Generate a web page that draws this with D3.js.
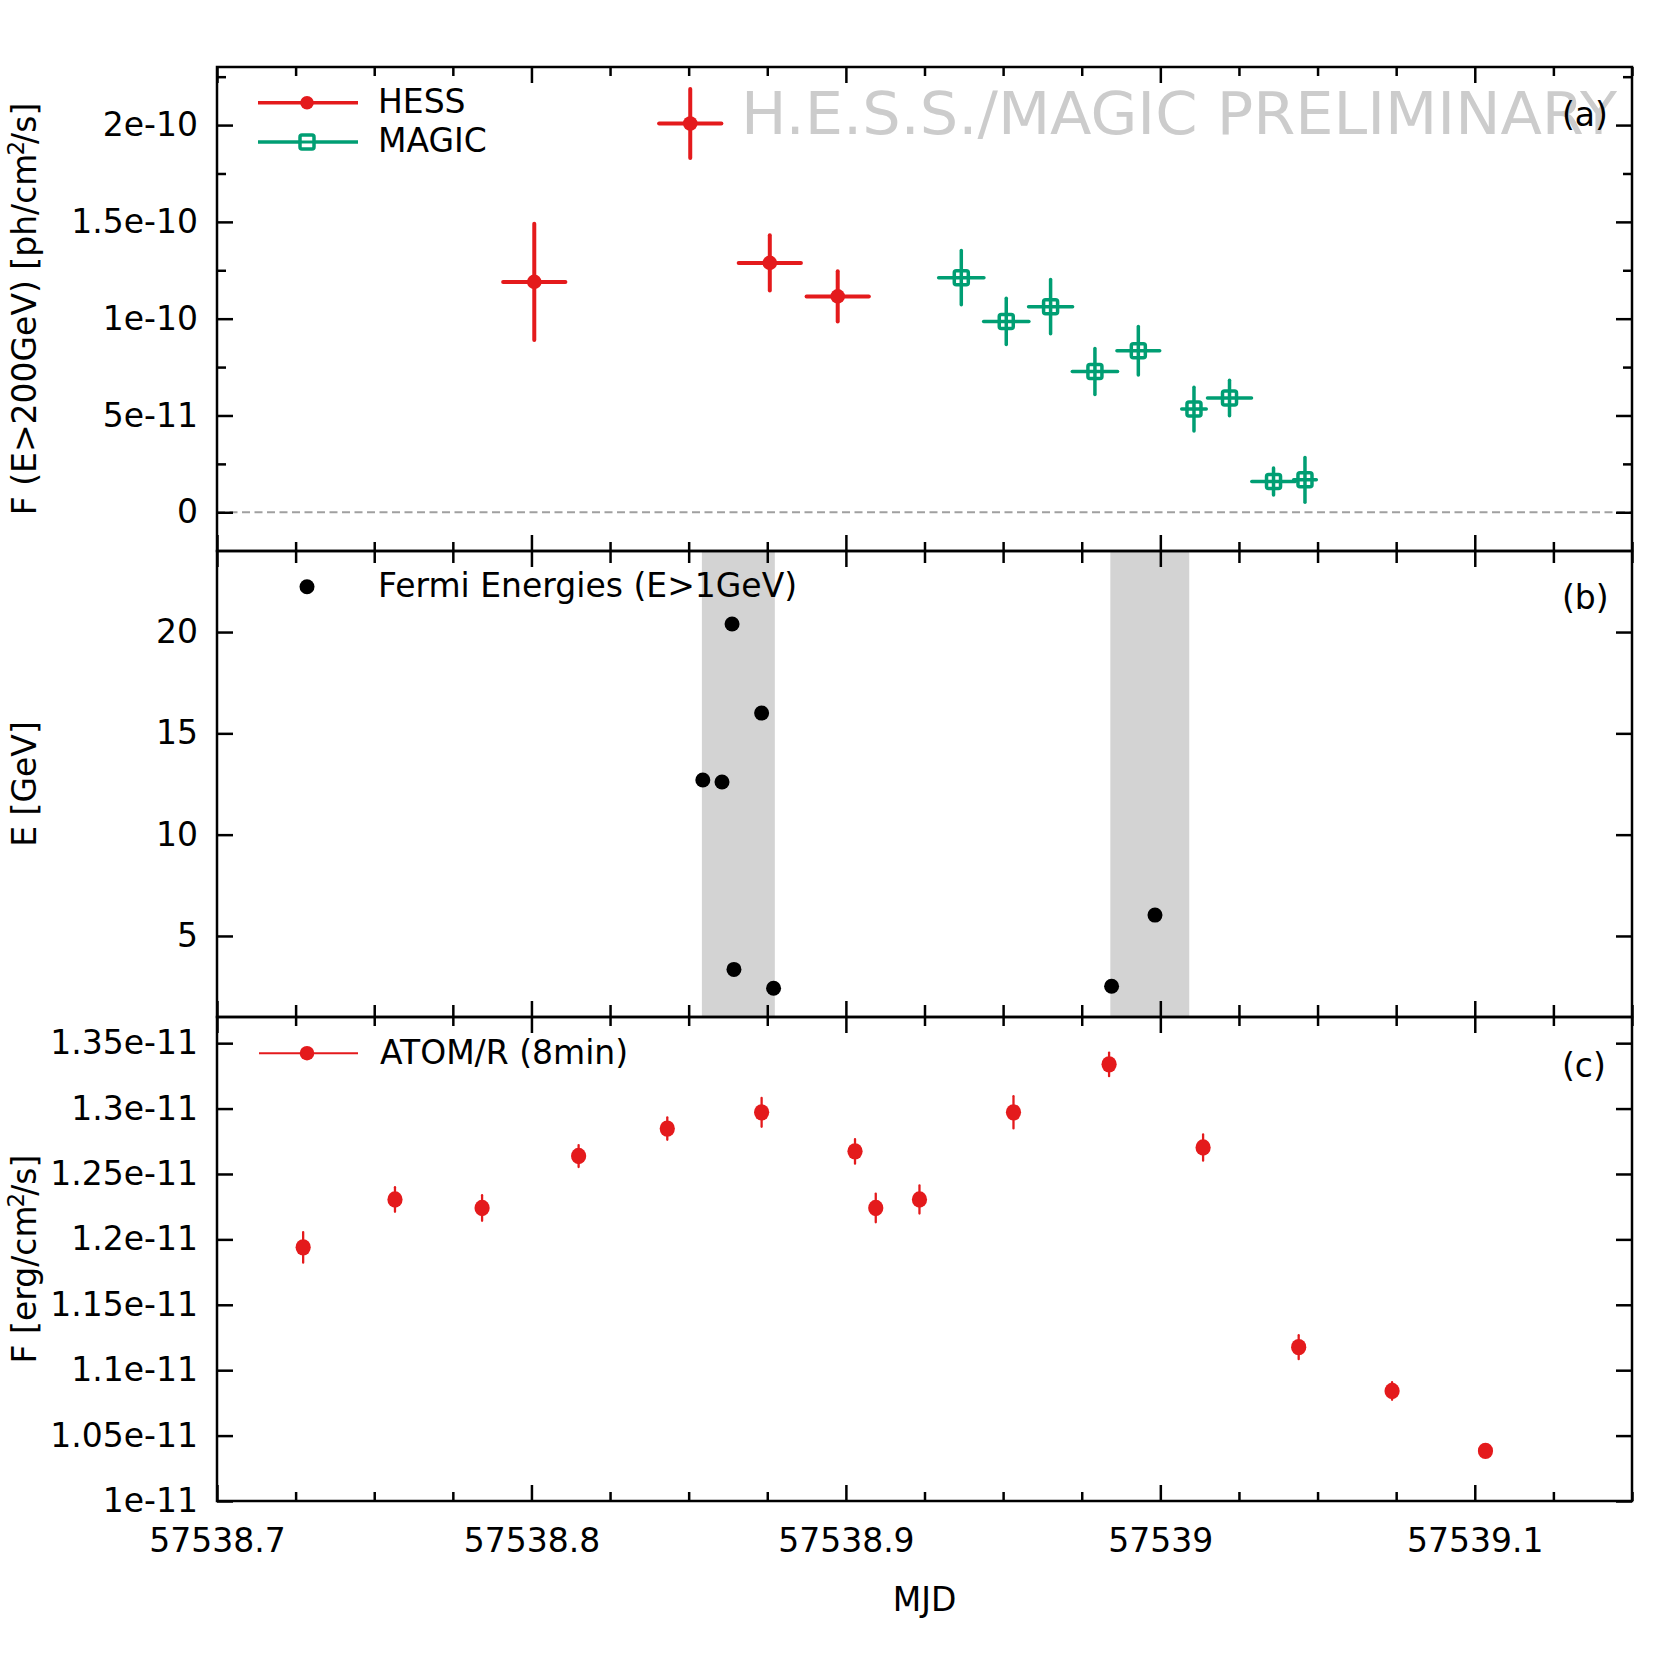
<!DOCTYPE html>
<html><head><meta charset="utf-8">
<script src="https://cdn.jsdelivr.net/npm/d3@7"></script>
<style>
body{margin:0;background:#fff}
svg{display:block}
text{font-family:"DejaVu Sans",sans-serif}
</style>
</head><body>
<svg id="chart" width="1667" height="1667"></svg>
<script>
// ---------- data ----------
const hessMjd     = [57538.8009, 57538.8505, 57538.8758, 57538.8974];
const hessMjdErr  = [0.0099, 0.0099, 0.0099, 0.0099];
const hessFlux    = [1.190e-10, 2.008e-10, 1.288e-10, 1.115e-10];
const hessFluxErr = [0.300e-10, 0.178e-10, 0.143e-10, 0.130e-10];

const magicMjd     = [57538.9367, 57538.9510, 57538.9651, 57538.9792, 57538.9930, 57539.0107, 57539.0220, 57539.0360, 57539.0460];
const magicMjdErr  = [0.0072, 0.0072, 0.0070, 0.0072, 0.0068, 0.0039, 0.0070, 0.0069, 0.0036];
const magicFlux    = [1.212e-10, 0.986e-10, 1.062e-10, 0.727e-10, 0.834e-10, 0.533e-10, 0.590e-10, 0.159e-10, 0.1675e-10];
const magicFluxErr = [0.140e-10, 0.120e-10, 0.140e-10, 0.119e-10, 0.125e-10, 0.113e-10, 0.092e-10, 0.070e-10, 0.116e-10];

const fermiMjd = [57538.8545, 57538.8606, 57538.8638, 57538.8644, 57538.8732, 57538.8770, 57538.9845, 57538.9983];
const fermiE   = [12.70, 12.60, 20.40, 3.35, 16.00, 2.42, 2.52, 6.03];
const fermiBandStart = [57538.8542, 57538.9841];
const fermiBandEnd   = [57538.8774, 57539.0092];

const atomMjd  = [57538.7274, 57538.7566, 57538.7843, 57538.8150, 57538.8432, 57538.8732, 57538.9029, 57538.9095, 57538.9234, 57538.9533, 57538.9837, 57539.0136, 57539.0440, 57539.0737, 57539.1034];
const atomFlux = [1.1939e-11, 1.2305e-11, 1.2240e-11, 1.2637e-11, 1.2847e-11, 1.2971e-11, 1.2673e-11, 1.2240e-11, 1.2305e-11, 1.2971e-11, 1.3338e-11, 1.2702e-11, 1.1176e-11, 1.0841e-11, 1.0383e-11];
const atomErr  = [1.17e-13, 0.94e-13, 0.98e-13, 0.84e-13, 0.86e-13, 1.10e-13, 0.94e-13, 1.10e-13, 1.07e-13, 1.23e-13, 0.90e-13, 1.00e-13, 0.92e-13, 0.67e-13, 0.35e-13];

const xTickValues = [57538.7, 57538.8, 57538.9, 57539.0, 57539.1];
const xTickLabels = ["57538.7", "57538.8", "57538.9", "57539", "57539.1"];
const yATickValues = [0, 5e-11, 1e-10, 1.5e-10, 2e-10];
const yATickLabels = ["0", "5e-11", "1e-10", "1.5e-10", "2e-10"];
const yBTickValues = [5, 10, 15, 20];
const yBTickLabels = ["5", "10", "15", "20"];
const yCTickValues = [1e-11, 1.05e-11, 1.1e-11, 1.15e-11, 1.2e-11, 1.25e-11, 1.3e-11, 1.35e-11];
const yCTickLabels = ["1e-11", "1.05e-11", "1.1e-11", "1.15e-11", "1.2e-11", "1.25e-11", "1.3e-11", "1.35e-11"];

// ---------- layout ----------
const RED = "#e41a1c", GREEN = "#009e73";
const FS = 33;
const L = 217, R = 1632;
const svg = d3.select("#chart");
svg.append("rect").attr("width",1667).attr("height",1667).attr("fill","#fff");

const x = d3.scaleLinear().domain([57538.7, 57539.15]).range([L, R]);
const yA = d3.scaleLinear().domain([-2e-11, 2.3e-10]).range([551, 67]);
const yB = d3.scaleLinear().domain([1, 24]).range([1017, 551]);
const yC = d3.scaleLinear().domain([1e-11, 1.37e-11]).range([1501, 1017]);

const xMinor = d3.range(0, 19).map(i => 57538.7 + i * 0.025)
  .filter(v => !xTickValues.some(t => Math.abs(t - v) < 1e-6));
const yAMinor = d3.range(-1, 10).map(i => i * 2.5e-11)
  .filter(v => v > -2e-11 && !yATickValues.some(t => Math.abs(t - v) < 1e-15));

// ---------- panel b background bands ----------
svg.append("g").selectAll("rect").data(fermiBandStart).join("rect")
  .attr("x", (d) => x(d)).attr("width", (d,i) => x(fermiBandEnd[i]) - x(d))
  .attr("y", yB.range()[1]).attr("height", yB.range()[0] - yB.range()[1])
  .attr("fill", "#d3d3d3");

// ---------- watermark ----------
svg.append("text").attr("x", 741).attr("y", 134)
  .attr("font-size", 59).attr("fill", "#cccccc")
  .attr("textLength", 876).attr("lengthAdjust", "spacingAndGlyphs")
  .text("H.E.S.S./MAGIC PRELIMINARY");

// zero line
svg.append("line").attr("x1", L).attr("x2", R).attr("y1", yA(0)).attr("y2", yA(0))
  .attr("stroke", "#a0a0a0").attr("stroke-width", 2).attr("stroke-dasharray", "8,4.5");

// ---------- error bars helper ----------
function errorBars(xs, xe, ys, ye, yScale, color, w) {
  const g = svg.append("g").attr("stroke", color).attr("stroke-width", w).attr("stroke-linecap", "round");
  if (xe) g.selectAll("line.h").data(xs).join("line").attr("class","h")
    .attr("x1", (d,i) => x(d - xe[i])).attr("x2", (d,i) => x(d + xe[i]))
    .attr("y1", (d,i) => yScale(ys[i])).attr("y2", (d,i) => yScale(ys[i]));
  g.selectAll("line.v").data(xs).join("line").attr("class","v")
    .attr("x1", d => x(d)).attr("x2", d => x(d))
    .attr("y1", (d,i) => yScale(ys[i] - ye[i])).attr("y2", (d,i) => yScale(ys[i] + ye[i]));
  return g;
}

// HESS
errorBars(hessMjd, hessMjdErr, hessFlux, hessFluxErr, yA, RED, 4);
svg.append("g").selectAll("circle").data(hessMjd).join("circle")
  .attr("cx", d => x(d)).attr("cy", (d,i) => yA(hessFlux[i])).attr("r", 7.3).attr("fill", RED);

// MAGIC
errorBars(magicMjd, magicMjdErr, magicFlux, magicFluxErr, yA, GREEN, 3.5);
svg.append("g").selectAll("rect").data(magicMjd).join("rect")
  .attr("x", d => x(d) - 7).attr("y", (d,i) => yA(magicFlux[i]) - 7)
  .attr("width", 14).attr("height", 14).attr("rx", 2)
  .attr("fill", "none").attr("stroke", GREEN).attr("stroke-width", 3.5);

// Fermi
svg.append("g").selectAll("circle").data(fermiMjd).join("circle")
  .attr("cx", d => x(d)).attr("cy", (d,i) => yB(fermiE[i])).attr("r", 7.5).attr("fill", "#000");

// ATOM
errorBars(atomMjd, null, atomFlux, atomErr, yC, RED, 2.3);
svg.append("g").selectAll("ellipse").data(atomMjd).join("ellipse")
  .attr("cx", d => x(d)).attr("cy", (d,i) => yC(atomFlux[i])).attr("rx", 7.6).attr("ry", 8.2).attr("fill", RED);

// ---------- axes ----------
function styleAxis(g) {
  g.select(".domain").remove();
  g.selectAll(".tick line").attr("stroke", "#000").attr("stroke-width", 2.5);
  g.selectAll(".tick text").attr("font-size", FS).attr("font-family", "DejaVu Sans").attr("fill", "#000");
  g.attr("font-family", null).attr("font-size", null);
}
function panelAxes(yScale, yVals, yLabels, yMinor, showX, minorLenX) {
  const [bottom, top] = yScale.range();
  const MAJ = 16, MIN = 9;
  svg.append("g").attr("transform", `translate(0,${top})`)
    .call(d3.axisTop(x).tickValues(xTickValues).tickSizeInner(-MAJ).tickSizeOuter(0).tickFormat(""))
    .call(styleAxis);
  svg.append("g").attr("transform", `translate(0,${top})`)
    .call(d3.axisTop(x).tickValues(xMinor).tickSizeInner(-minorLenX).tickSizeOuter(0).tickFormat(""))
    .call(styleAxis);
  svg.append("g").attr("transform", `translate(0,${bottom})`)
    .call(d3.axisBottom(x).tickValues(xTickValues).tickSizeInner(-MAJ).tickSizeOuter(0).tickPadding(28)
      .tickFormat((d,i) => showX ? xTickLabels[i] : ""))
    .call(styleAxis);
  svg.append("g").attr("transform", `translate(0,${bottom})`)
    .call(d3.axisBottom(x).tickValues(xMinor).tickSizeInner(-minorLenX).tickSizeOuter(0).tickFormat(""))
    .call(styleAxis);
  svg.append("g").attr("transform", `translate(${L},0)`)
    .call(d3.axisLeft(yScale).tickValues(yVals).tickSizeInner(-MAJ).tickSizeOuter(0).tickPadding(19)
      .tickFormat((d,i) => yLabels[i]))
    .call(styleAxis);
  svg.append("g").attr("transform", `translate(${R},0)`)
    .call(d3.axisRight(yScale).tickValues(yVals).tickSizeInner(-MAJ).tickSizeOuter(0).tickFormat(""))
    .call(styleAxis);
  if (yMinor) {
    svg.append("g").attr("transform", `translate(${L},0)`)
      .call(d3.axisLeft(yScale).tickValues(yMinor).tickSizeInner(-MIN).tickSizeOuter(0).tickFormat(""))
      .call(styleAxis);
    svg.append("g").attr("transform", `translate(${R},0)`)
      .call(d3.axisRight(yScale).tickValues(yMinor).tickSizeInner(-MIN).tickSizeOuter(0).tickFormat(""))
      .call(styleAxis);
  }
  svg.append("rect").attr("x", L).attr("y", top).attr("width", R - L).attr("height", bottom - top)
    .attr("fill", "none").attr("stroke", "#000").attr("stroke-width", 2.5);
}
panelAxes(yA, yATickValues, yATickLabels, yAMinor, false, 9);
panelAxes(yB, yBTickValues, yBTickLabels, null, false, 12);
panelAxes(yC, yCTickValues, yCTickLabels, null, true, 9);

// ---------- legends ----------
const leg = svg.append("g");
leg.append("line").attr("x1", 258).attr("x2", 358).attr("y1", 102.7).attr("y2", 102.7).attr("stroke", RED).attr("stroke-width", 3.5);
leg.append("circle").attr("cx", 307).attr("cy", 102.7).attr("r", 6.8).attr("fill", RED);
leg.append("text").attr("x", 378).attr("y", 113).attr("font-size", FS).text("HESS");
leg.append("line").attr("x1", 258).attr("x2", 358).attr("y1", 142).attr("y2", 142).attr("stroke", GREEN).attr("stroke-width", 3.5);
leg.append("rect").attr("x", 300).attr("y", 135).attr("width", 14).attr("height", 14).attr("rx", 2)
  .attr("fill", "#fff").attr("stroke", GREEN).attr("stroke-width", 3.5);
leg.append("line").attr("x1", 300).attr("x2", 314).attr("y1", 142).attr("y2", 142).attr("stroke", GREEN).attr("stroke-width", 3);
leg.append("text").attr("x", 378).attr("y", 152).attr("font-size", FS).text("MAGIC");
leg.append("circle").attr("cx", 307).attr("cy", 586.7).attr("r", 7.5).attr("fill", "#000");
leg.append("text").attr("x", 378).attr("y", 597).attr("font-size", FS).text("Fermi Energies (E>1GeV)");
leg.append("line").attr("x1", 259).attr("x2", 358).attr("y1", 1053.2).attr("y2", 1053.2).attr("stroke", RED).attr("stroke-width", 2);
leg.append("circle").attr("cx", 307).attr("cy", 1053.2).attr("r", 7.3).attr("fill", RED);
leg.append("text").attr("x", 380).attr("y", 1064).attr("font-size", FS).text("ATOM/R (8min)");

// panel tags
[["(a)", 126], ["(b)", 608.5], ["(c)", 1077]].forEach(([t, y]) => {
  svg.append("text").attr("x", 1562).attr("y", y).attr("font-size", FS).text(t);
});

// ---------- axis titles ----------
function yTitle(cy, parts) {
  const t = svg.append("text").attr("transform", `translate(36,${cy}) rotate(-90)`)
    .attr("text-anchor", "middle").attr("font-size", FS);
  parts.forEach(p => {
    const s = t.append("tspan").text(p.t);
    if (p.sup) s.attr("font-size", 23).attr("dy", -12).attr("dx", -2);
    if (p.after) s.attr("dy", 12).attr("dx", -3);
  });
}
yTitle(309, [{t: "F (E>200GeV) [ph/cm"}, {t: "2", sup: true}, {t: "/s]", after: true}]);
yTitle(784, [{t: "E [GeV]"}]);
yTitle(1259, [{t: "F [erg/cm"}, {t: "2", sup: true}, {t: "/s]", after: true}]);

svg.append("text").attr("x", (L + R) / 2).attr("y", 1611).attr("text-anchor", "middle")
  .attr("font-size", FS).text("MJD");
</script>
</body></html>
